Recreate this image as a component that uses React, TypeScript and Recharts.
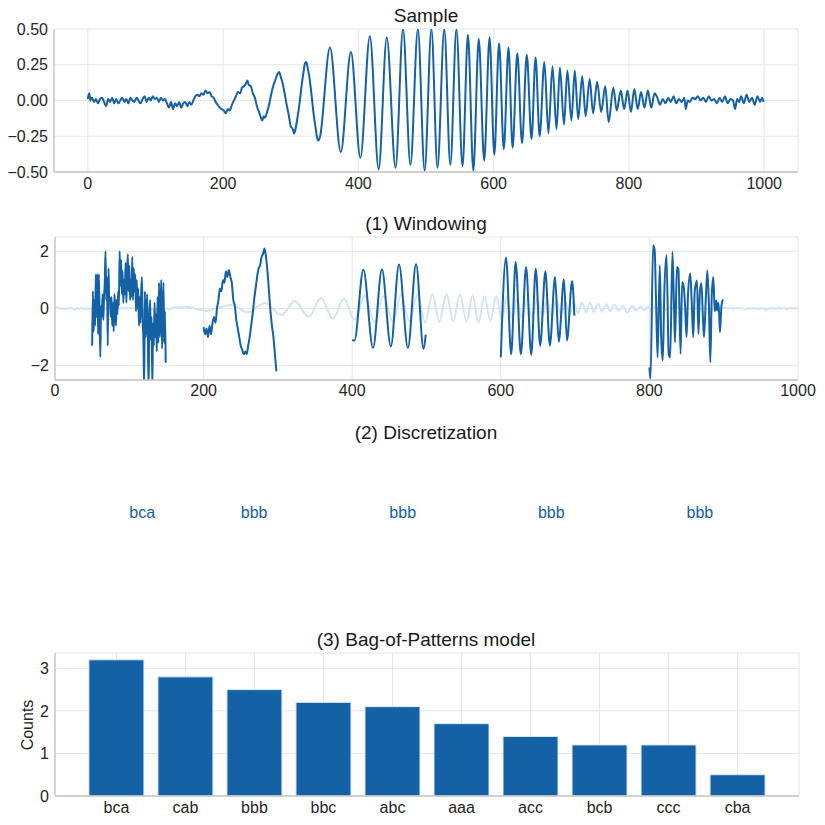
import React from 'react';
import {
  LineChart, Line, BarChart, Bar, ScatterChart, Scatter,
  XAxis, YAxis, CartesianGrid,
} from 'recharts';

// sample signal (x, value)
const sampleT = [
  0, 2, 4, 6, 9, 12, 15, 18, 21, 24, 27, 30, 33, 36, 39, 42, 45, 48, 51, 54, 57, 60, 63, 66, 69, 72, 75, 78,
  81, 84, 87, 90, 93, 96, 99, 102, 105, 108, 111, 114, 117, 120, 123, 126, 129, 132, 135, 138, 141, 144, 147,
  150, 153, 156, 159, 162, 165, 168, 171, 174, 177, 180, 183, 186, 189, 192, 195, 198, 201, 204, 207, 210, 213,
  216, 219, 222, 225, 228, 231, 234, 236, 238, 241, 244, 247, 250, 253, 256, 258, 260, 262, 265, 268, 271, 274,
  277, 280, 283, 285, 288, 291, 294, 297, 300, 303, 305, 307, 310, 313, 316, 319, 321, 323, 325, 328, 331, 334,
  337, 339, 341, 343, 358, 374, 389, 403, 417, 430, 442, 455, 466, 477, 488, 498, 508, 517, 527, 536, 545, 554,
  562, 570, 578, 586, 594, 601, 608, 615, 622, 628, 635, 642, 649, 656, 662, 668, 675, 681, 687, 693, 698, 704,
  709, 715, 720, 725, 731, 736, 742, 747, 753, 759, 765, 770, 777, 782, 788, 793, 798, 803, 808, 813, 818, 823,
  828, 833, 838, 842, 846, 850, 854, 858, 862, 866, 870, 874, 878, 882, 884, 887, 890, 894, 898, 902, 906, 910,
  914, 918, 922, 926, 930, 934, 938, 942, 946, 950, 954, 957, 960, 963, 966, 970, 974, 978, 982, 986, 990, 994,
  997, 999,
];
const sampleV = [
  0.01, 0.05, 0.0, 0.02, -0.01, 0.01, -0.02, 0.01, 0.02, -0.01, -0.04, 0.01, -0.01, 0.02, -0.02, 0.01, -0.02,
  0.0, 0.02, -0.01, 0.01, -0.02, 0.02, 0.0, -0.01, 0.02, 0.0, -0.02, 0.01, 0.03, -0.01, 0.02, 0.0, 0.03, 0.01,
  0.02, -0.01, 0.02, 0.0, 0.01, -0.02, -0.05, -0.01, -0.06, -0.02, -0.04, -0.01, -0.05, -0.02, -0.01, -0.04,
  -0.01, -0.03, 0.0, 0.03, 0.04, 0.03, 0.05, 0.04, 0.07, 0.05, 0.06, 0.03, 0.02, -0.01, -0.03, -0.05, -0.06,
  -0.07, -0.09, -0.06, -0.07, -0.03, 0.0, 0.03, 0.06, 0.05, 0.09, 0.1, 0.12, 0.14, 0.11, 0.1, 0.05, 0.02, -0.04,
  -0.08, -0.12, -0.14, -0.11, -0.12, -0.08, -0.03, 0.04, 0.1, 0.14, 0.18, 0.2, 0.17, 0.12, 0.05, -0.03, -0.1,
  -0.18, -0.2, -0.23, -0.2, -0.12, -0.02, 0.1, 0.2, 0.26, 0.27, 0.23, 0.15, 0.03, -0.1, -0.2, -0.26, -0.28,
  -0.26, 0.37, -0.36, 0.34, -0.4, 0.45, -0.48, 0.44, -0.47, 0.5, -0.45, 0.5, -0.49, 0.5, -0.47, 0.5, -0.45,
  0.5, -0.46, 0.46, -0.49, 0.43, -0.42, 0.44, -0.38, 0.4, -0.34, 0.37, -0.33, 0.33, -0.3, 0.32, -0.27, 0.3,
  -0.25, 0.27, -0.23, 0.24, -0.2, 0.23, -0.17, 0.21, -0.14, 0.21, -0.13, 0.17, -0.11, 0.15, -0.09, 0.13, -0.08,
  0.1, -0.15, 0.09, -0.07, 0.07, -0.06, 0.07, -0.08, 0.08, -0.06, 0.06, -0.05, 0.07, -0.05, 0.05, 0.02, -0.03,
  0.01, -0.02, 0.02, -0.01, 0.03, -0.02, 0.01, -0.01, 0.02, -0.06, 0.0, -0.01, 0.02, 0.01, 0.03, 0.0, 0.02,
  -0.01, 0.03, 0.0, 0.01, -0.02, 0.02, -0.01, 0.03, -0.02, 0.01, 0.0, -0.06, 0.01, -0.01, 0.03, -0.02, 0.04,
  -0.01, 0.02, -0.03, 0.03, -0.01, 0.02, -0.01,
];

// normalized windows drawn in panel (1)
const w1T = [
  50, 51, 52, 53, 54, 55, 56, 57, 58, 59, 60, 61, 62, 63, 64, 65, 66, 67, 68, 69, 70, 71, 72, 73, 74, 75, 76,
  77, 78, 79, 80, 81, 82, 83, 84, 85, 86, 87, 88, 89, 90, 91, 92, 93, 94, 95, 96, 97, 98, 99, 100, 101, 102,
  103, 104, 105, 106, 107, 108, 109, 110, 111, 112, 113, 114, 115, 116, 117, 118, 119, 120, 121, 122, 123, 124,
  125, 126, 127, 128, 129, 130, 131, 132, 133, 134, 135, 136, 137, 138, 139, 140, 141, 142, 143, 144, 145, 146,
  147, 148, 149,
];
const w1V = [
  -1.3, 0.6, -0.8, 0.3, -0.6, 1.2, -0.3, 1.2, -0.9, 1.2, -0.2, -1.7, 0.1, -0.3, 0.5, -0.4, 0.4, 0.9, 2.0, 0.3,
  1.1, -1.3, 1.4, 0.3, 0.4, -0.3, 0.4, -0.6, 0.2, -0.8, 0.5, 0.0, -0.6, 0.3, -0.2, 0.6, 0.1, 2.0, 0.8, 1.7, 0.5,
  1.3, 0.2, 1.0, 0.5, 1.6, 0.2, 1.2, 1.9, 0.6, 1.5, 0.3, 1.0, 0.4, 1.8, 0.3, 1.4, 0.6, 1.2, -0.1, 1.0, 0.0, 0.7,
  -0.6, 0.4, -0.5, 0.6, 1.1, -0.4, -1.1, -2.8, 0.6, -1.0, -0.6, 0.5, -1.0, -2.8, -0.4, 0.3, -1.1, -0.3, -2.8,
  -0.5, -1.3, 0.2, -1.0, -0.2, -1.5, 0.4, -1.2, 0.9, -1.0, -0.2, 1.0, -1.4, -0.4, 0.9, -1.2, -0.1, -1.9,
];
const w2T = [
  200, 202, 204, 206, 208, 210, 212, 214, 216, 218, 220, 222, 224, 226, 228, 230, 232, 234, 236, 238, 240, 242,
  244, 246, 248, 250, 252, 254, 256, 258, 260, 262, 264, 266, 268, 270, 272, 274, 276, 278, 280, 282, 284, 286,
  288, 290, 292, 294, 296, 298,
];
const w2V = [
  -0.65, -0.9, -0.7, -1.0, -0.6, -0.9, -0.5, -0.3, -0.5, 0.0, 0.3, 0.7, 0.6, 1.0, 0.9, 1.3, 1.1, 1.35, 1.1, 0.9,
  0.3, 0.1, -0.4, -0.7, -1.0, -1.3, -1.45, -1.6, -1.5, -1.6, -1.3, -1.0, -0.6, -0.2, 0.3, 0.7, 1.1, 1.4, 1.5,
  1.8, 1.9, 2.1, 1.8, 1.3, 0.6, -0.1, -0.6, -1.0, -1.6, -2.2,
];
const w3T = [400, 403, 415, 428, 440, 452, 463, 475, 486, 496, 499];
const w3V = [-1.1, -1.12, 1.36, -1.38, 1.36, -1.33, 1.54, -1.38, 1.56, -1.42, -0.91];
const w4T = [600, 607, 614, 620, 627, 634, 641, 647, 653, 660, 666, 673, 678, 685, 689, 696, 699];
const w4V = [-1.71, 1.78, -1.6, 1.63, -1.6, 1.45, -1.62, 1.39, -1.3, 1.3, -1.3, 1.1, -1.16, 1.02, -1.12, 0.96, -0.25];
const w5T = [
  800, 801.5, 805, 807, 809, 811, 814, 816, 818, 820, 823, 826, 828, 831, 833, 834.5, 837, 839, 842, 844, 846,
  848, 850, 852, 855, 857, 859, 861, 864, 866, 868, 870, 872, 873.5, 876, 878, 880, 882, 884, 886, 888, 890, 891,
  893, 895, 897, 899,
];
const w5V = [
  -2.06, -2.45, 2.21, 2.05, 0.2, -1.71, 1.51, -1.12, -1.82, 0.5, 1.86, -1.59, -1.71, 1.98, 0.2, -1.18, 1.45,
  1.37, -1.59, 0.92, 0.8, 0.1, -1.0, 0.5, 1.22, 0.2, -1.0, 0.6, 0.98, -0.89, 0.6, 0.88, -0.3, -1.0, 0.4, 1.33,
  0.2, -1.88, 0.5, 1.1, -0.1, 0.28, -0.07, 0.2, -0.83, 0.1, 0.32,
];

// (2) words, placed at window centres
const wordPos = [100, 250, 450, 650, 850];
const words = ['bca', 'bbb', 'bbb', 'bbb', 'bbb'];

// (3) bag of patterns
const patterns = ['bca', 'cab', 'bbb', 'bbc', 'abc', 'aaa', 'acc', 'bcb', 'ccc', 'cba'];
const counts = [3.2, 2.8, 2.5, 2.2, 2.1, 1.7, 1.4, 1.2, 1.2, 0.5];

const FONT = '"Liberation Sans", Arial, Helvetica, sans-serif';
const BLUE = '#1461a5';
const FADED = '#d3e3f1';
const GRID = '#e6e6e6';
const SPINE = '#c4c4c4';
const TICK = { fontSize: 16, fill: '#262626', fontFamily: FONT };

const pts = (xs: number[], ys: number[]) => xs.map((x, i) => ({ x, v: ys[i] }));
const fmtMinus = (s: string) => s.replace('-', '\u2212');

const samplePts = pts(sampleT, sampleV);
const windows = [pts(w1T, w1V), pts(w2T, w2V), pts(w3T, w3V), pts(w4T, w4V), pts(w5T, w5V)];
const wordPts = wordPos.map((x, i) => ({ x, y: 0.5, word: words[i] }));
const barData = patterns.map((p, i) => ({ i, count: counts[i] }));

function Title({ top, text }: { top: number; text: string }) {
  return (
    <div style={{
      position: 'absolute', left: 54, width: 744, top, textAlign: 'center',
      fontSize: 19, lineHeight: '20px', color: '#1a1a1a', zIndex: 2,
    }}>
      {text}
    </div>
  );
}

export default function App() {
  return (
    <div style={{ position: 'absolute', left: 0, top: 0, width: 825, height: 825, background: '#fff', fontFamily: FONT }}>
      {/* Sample */}
      <div style={{ position: 'absolute', left: 0, top: 0 }}>
        <LineChart width={825} height={200} margin={{ top: 29, right: 27, bottom: 4, left: 4 }}>
          <CartesianGrid stroke={GRID} strokeWidth={1} />
          <XAxis
            type="number" dataKey="x" domain={[-50, 1050]} ticks={[0, 200, 400, 600, 800, 1000]}
            interval={0} height={24} tickLine={false} tickSize={4} tickMargin={2}
            axisLine={{ stroke: SPINE, strokeWidth: 1.3 }} tick={TICK} allowDataOverflow
          />
          <YAxis
            type="number" dataKey="v" domain={[-0.5, 0.5]} ticks={[-0.5, -0.25, 0, 0.25, 0.5]}
            interval={0} width={50} tickLine={false} tickSize={4} tickMargin={2}
            axisLine={{ stroke: SPINE, strokeWidth: 1.3 }} tick={TICK} allowDataOverflow
            tickFormatter={(v: number) => fmtMinus(v.toFixed(2))}
          />
          <Line data={samplePts} dataKey="v" type="monotone" stroke={BLUE} strokeWidth={2}
            dot={false} activeDot={false} isAnimationActive={false} />
        </LineChart>
      </div>

      {/* (1) Windowing */}
      <div style={{ position: 'absolute', left: 0, top: 200 }}>
        <LineChart width={825} height={205} margin={{ top: 37, right: 27, bottom: 4, left: 5 }}>
          <CartesianGrid stroke={GRID} strokeWidth={1} />
          <XAxis
            type="number" dataKey="x" domain={[0, 1000]} ticks={[0, 200, 400, 600, 800, 1000]}
            interval={0} height={21} tickLine={false} tickSize={4} tickMargin={1}
            axisLine={{ stroke: SPINE, strokeWidth: 1.3 }} tick={TICK} allowDataOverflow
          />
          <YAxis
            type="number" dataKey="v" domain={[-2.5, 2.5]} ticks={[-2, 0, 2]}
            interval={0} width={50} tickLine={false} tickSize={4} tickMargin={2}
            axisLine={{ stroke: SPINE, strokeWidth: 1.3 }} tick={TICK} allowDataOverflow
            tickFormatter={(v: number) => fmtMinus(String(v))}
          />
          <Line data={samplePts} dataKey="v" type="monotone" stroke={FADED} strokeWidth={2}
            dot={false} activeDot={false} isAnimationActive={false} />
          {windows.map((w, k) => (
            <Line key={k} data={w} dataKey="v" type="monotone" stroke={BLUE} strokeWidth={2}
              dot={false} activeDot={false} isAnimationActive={false} />
          ))}
        </LineChart>
      </div>

      {/* (2) Discretization */}
      <div style={{ position: 'absolute', left: 0, top: 462 }}>
        <ScatterChart width={825} height={100} margin={{ top: 0, right: 27, bottom: 0, left: 55 }}>
          <XAxis type="number" dataKey="x" domain={[0, 1000]} hide height={0} />
          <YAxis type="number" dataKey="y" domain={[0, 1]} hide width={0} />
          <Scatter
            data={wordPts} isAnimationActive={false}
            shape={(p: any) => (
              <text x={p.cx} y={p.cy} dominantBaseline="central" textAnchor="start"
                fontSize={16} fill={BLUE} fontFamily={FONT}>
                {p.payload.word}
              </text>
            )}
          />
        </ScatterChart>
      </div>

      {/* (3) Bag-of-Patterns model */}
      <div style={{ position: 'absolute', left: 0, top: 620 }}>
        <BarChart width={825} height={205} data={barData} margin={{ top: 33, right: 26, bottom: 4, left: 5 }}>
          <CartesianGrid stroke={GRID} strokeWidth={1} />
          <XAxis
            type="number" dataKey="i" domain={[-0.89, 9.89]} ticks={[0, 1, 2, 3, 4, 5, 6, 7, 8, 9]}
            interval={0} height={25} tickLine={false} tickSize={4} tickMargin={2}
            axisLine={{ stroke: SPINE, strokeWidth: 1.3 }} tick={TICK}
            tickFormatter={(i: number) => patterns[i] ?? ''}
          />
          <YAxis
            type="number" domain={[0, 3.36]} ticks={[0, 1, 2, 3]}
            interval={0} width={50} tickLine={false} tickSize={4} tickMargin={2}
            axisLine={{ stroke: SPINE, strokeWidth: 1.3 }} tick={TICK}
          />
          <Bar dataKey="count" fill={BLUE} stroke="#dce8f3" strokeWidth={1} barSize={55} isAnimationActive={false} />
        </BarChart>
      </div>

      <div style={{
        position: 'absolute', left: -22, top: 716, width: 100, textAlign: 'center',
        transform: 'rotate(-90deg)', fontSize: 16, lineHeight: '18px', color: '#262626',
      }}>
        Counts
      </div>

      <Title top={6} text="Sample" />
      <Title top={214} text="(1) Windowing" />
      <Title top={423} text="(2) Discretization" />
      <Title top={630} text="(3) Bag-of-Patterns model" />
    </div>
  );
}
